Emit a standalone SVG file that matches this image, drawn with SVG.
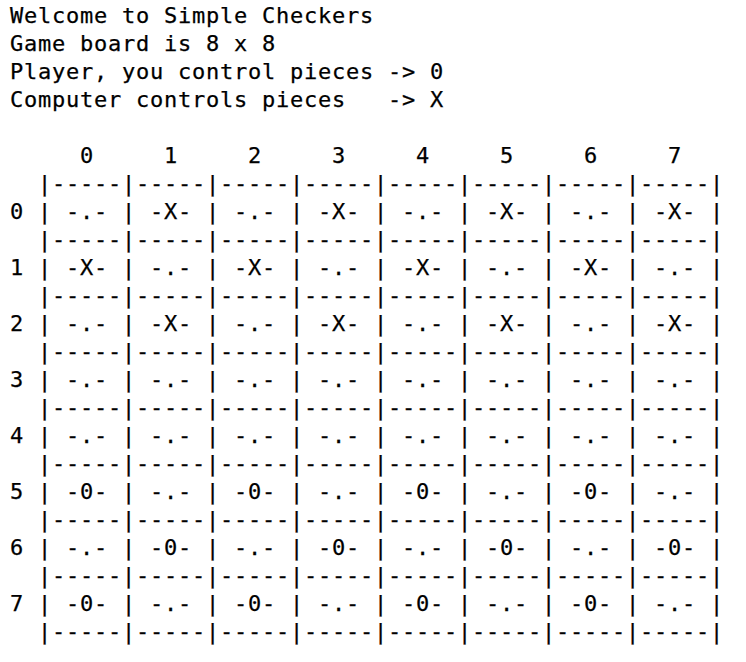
<svg xmlns="http://www.w3.org/2000/svg" width="746" height="662" viewBox="0 0 746 662">
<style>
text{font-family:"DejaVu Sans Mono","Liberation Mono",monospace;font-size:22px;letter-spacing:0.756px;fill:#000;stroke:#000;stroke-width:0.25px;white-space:pre}
</style>
<rect width="746" height="662" fill="#fff"/>
<g id="intro" xml:space="preserve">
<text x="10" y="23">Welcome to Simple Checkers</text>
<text x="10" y="51">Game board is 8 x 8</text>
<text x="10" y="79">Player, you control pieces -&gt; 0</text>
<text x="10" y="107">Computer controls pieces   -&gt; X</text>
</g>
<g id="board" xml:space="preserve">
<text x="10" y="163">     0     1     2     3     4     5     6     7</text>
<text x="10" y="191">  |-----|-----|-----|-----|-----|-----|-----|-----|</text>
<text x="10" y="219">0 | -.- | -X- | -.- | -X- | -.- | -X- | -.- | -X- |</text>
<text x="10" y="247">  |-----|-----|-----|-----|-----|-----|-----|-----|</text>
<text x="10" y="275">1 | -X- | -.- | -X- | -.- | -X- | -.- | -X- | -.- |</text>
<text x="10" y="303">  |-----|-----|-----|-----|-----|-----|-----|-----|</text>
<text x="10" y="331">2 | -.- | -X- | -.- | -X- | -.- | -X- | -.- | -X- |</text>
<text x="10" y="359">  |-----|-----|-----|-----|-----|-----|-----|-----|</text>
<text x="10" y="387">3 | -.- | -.- | -.- | -.- | -.- | -.- | -.- | -.- |</text>
<text x="10" y="415">  |-----|-----|-----|-----|-----|-----|-----|-----|</text>
<text x="10" y="443">4 | -.- | -.- | -.- | -.- | -.- | -.- | -.- | -.- |</text>
<text x="10" y="471">  |-----|-----|-----|-----|-----|-----|-----|-----|</text>
<text x="10" y="499">5 | -0- | -.- | -0- | -.- | -0- | -.- | -0- | -.- |</text>
<text x="10" y="527">  |-----|-----|-----|-----|-----|-----|-----|-----|</text>
<text x="10" y="555">6 | -.- | -0- | -.- | -0- | -.- | -0- | -.- | -0- |</text>
<text x="10" y="583">  |-----|-----|-----|-----|-----|-----|-----|-----|</text>
<text x="10" y="611">7 | -0- | -.- | -0- | -.- | -0- | -.- | -0- | -.- |</text>
<text x="10" y="639">  |-----|-----|-----|-----|-----|-----|-----|-----|</text>
</g>
</svg>
